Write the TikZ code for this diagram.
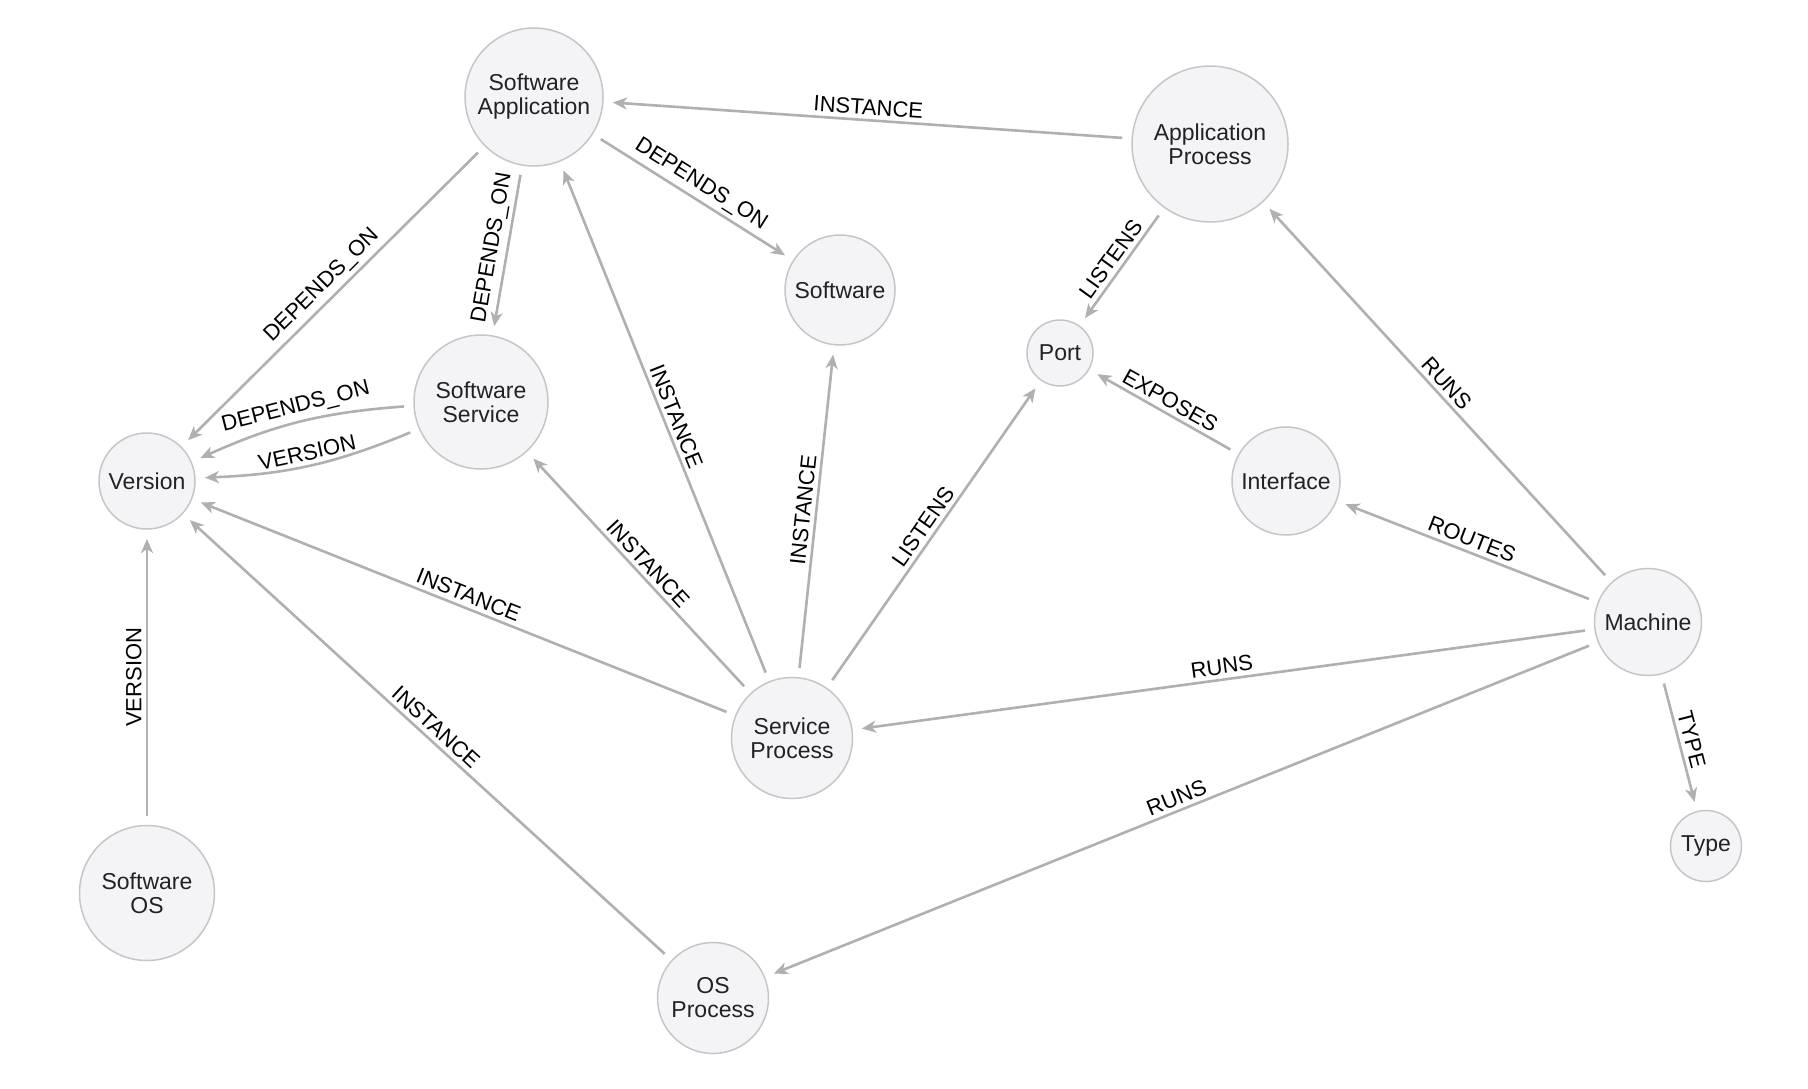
\documentclass[tikz,border=0pt]{standalone}
\usepackage{fontspec}
\setmainfont{Liberation Sans}
\usetikzlibrary{arrows.meta}
\definecolor{edgegray}{HTML}{B0B0B0}
\definecolor{nodefill}{HTML}{F4F4F7}
\definecolor{nodedraw}{HTML}{C6C6C9}
\definecolor{nodetext}{HTML}{222222}
\begin{document}
\begin{tikzpicture}[x=1pt,y=-1pt,
  gnode/.style={circle, draw=nodedraw, line width=1.5pt, fill=nodefill, inner sep=0pt,
    outer sep=10pt, align=center, font=\fontsize{23}{24}\selectfont, text=nodetext},
  rel/.style={draw=edgegray, line width=2.6pt, -{Stealth[length=14pt,width=12pt,inset=4pt]}},
  lbl/.style={sloped, above, midway, font=\fontsize{22}{24}\selectfont, inner sep=4pt, text=black}]
\useasboundingbox[fill=white] (0,0) rectangle (1808,1088);

\node[gnode, minimum size=138pt] (sa) at (534,97) {Software\\Application};
\node[gnode, minimum size=156pt] (ap) at (1210,144) {Application\\Process};
\node[gnode, minimum size=110pt] (sw) at (840,290) {Software};
\node[gnode, minimum size=66pt] (port) at (1060,353) {Port};
\node[gnode, minimum size=134pt] (ss) at (481,402) {Software\\Service};
\node[gnode, minimum size=96pt] (ver) at (147,481) {Version};
\node[gnode, minimum size=108pt] (intf) at (1286,481) {Interface};
\node[gnode, minimum size=107pt] (mach) at (1648,622) {Machine};
\node[gnode, minimum size=121pt] (sp) at (792,738) {Service\\Process};
\node[gnode, minimum size=71pt] (type) at (1706,846) {Type};
\node[gnode, minimum size=135pt] (sos) at (147,893) {Software\\OS};
\node[gnode, minimum size=111pt] (osp) at (713,998) {OS\\Process};

\draw[rel] (ap) -- node[lbl]{INSTANCE} (sa);
\draw[rel] (sa) -- node[lbl]{DEPENDS\_ON} (sw);
\draw[rel] (sa) -- node[lbl]{DEPENDS\_ON} (ss);
\draw[rel] (sa) -- node[lbl]{DEPENDS\_ON} (ver);
\draw[rel] (ss) to[bend right=10] node[lbl]{DEPENDS\_ON} (ver);
\draw[rel] (ss) to[bend left=10] node[lbl]{VERSION} (ver);
\draw[rel] (sp) -- node[lbl]{INSTANCE} (sa);
\draw[rel] (sp) -- node[lbl]{INSTANCE} (sw);
\draw[rel] (sp) -- node[lbl]{INSTANCE} (ss);
\draw[rel] (sp) -- node[lbl]{INSTANCE} (ver);
\draw[rel] (sp) -- node[lbl]{LISTENS} (port);
\draw[rel] (ap) -- node[lbl]{LISTENS} (port);
\draw[rel] (intf) -- node[lbl]{EXPOSES} (port);
\draw[rel] (mach) -- node[lbl]{ROUTES} (intf);
\draw[rel] (mach) -- node[lbl]{RUNS} (ap);
\draw[rel] (mach) -- node[lbl]{RUNS} (sp);
\draw[rel] (mach) -- node[lbl]{RUNS} (osp);
\draw[rel] (mach) -- node[lbl]{TYPE} (type);
\draw[rel] (sos) -- node[lbl]{VERSION} (ver);
\draw[rel] (osp) -- node[lbl]{INSTANCE} (ver);
\end{tikzpicture}
\end{document}
